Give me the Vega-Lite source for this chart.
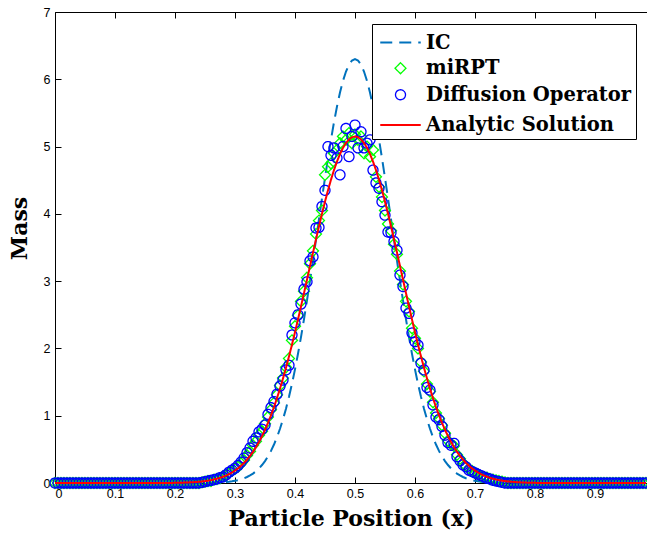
{
  "$schema": "https://vega.github.io/schema/vega-lite/v6.json",
  "width": 592,
  "height": 471,
  "autosize": {"type": "none"},
  "padding": {"left": 55, "top": 12, "right": 0, "bottom": 52},
  "background": "white",
  "config": {
    "view": {"stroke": null},
    "axis": {
      "grid": false,
      "domainColor": "#000",
      "domainWidth": 1,
      "tickColor": "#000",
      "tickWidth": 1,
      "tickSize": -6,
      "labelFont": "Liberation Sans",
      "labelFontSize": 12.5,
      "labelColor": "#000",
      "titleFont": "DejaVu Serif",
      "titleFontWeight": "bold",
      "titleFontSize": 22,
      "titleColor": "#000"
    }
  },
  "data": {
    "values": [
      {"x":0,"i":0,"a":0,"m":0,"d":0},{"x":0.005,"i":0,"a":0,"m":0,"d":0},{"x":0.01,"i":0,"a":0,"m":0,"d":0},{"x":0.015,"i":0,"a":0,"m":0,"d":0},
      {"x":0.02,"i":0,"a":0,"m":0,"d":0},{"x":0.025,"i":0,"a":0,"m":0,"d":0},{"x":0.03,"i":0,"a":0,"m":0,"d":0},{"x":0.035,"i":0,"a":0,"m":0,"d":0},
      {"x":0.04,"i":0,"a":0,"m":0,"d":0},{"x":0.045,"i":0,"a":0,"m":0,"d":0},{"x":0.05,"i":0,"a":0,"m":0,"d":0},{"x":0.055,"i":0,"a":0,"m":0,"d":0},
      {"x":0.06,"i":0,"a":0,"m":0,"d":0},{"x":0.065,"i":0,"a":0,"m":0,"d":0},{"x":0.07,"i":0,"a":0,"m":0,"d":0},{"x":0.075,"i":0,"a":0,"m":0,"d":0},
      {"x":0.08,"i":0,"a":0,"m":0,"d":0},{"x":0.085,"i":0,"a":0,"m":0,"d":0},{"x":0.09,"i":0,"a":0,"m":0,"d":0},{"x":0.095,"i":0,"a":0,"m":0,"d":0},
      {"x":0.1,"i":0,"a":0,"m":0,"d":0},{"x":0.105,"i":0,"a":0,"m":0,"d":0},{"x":0.11,"i":0,"a":0,"m":0,"d":0},{"x":0.115,"i":0,"a":0,"m":0,"d":0},
      {"x":0.12,"i":0,"a":0,"m":0,"d":0},{"x":0.125,"i":0,"a":0,"m":0,"d":0},{"x":0.13,"i":0,"a":0,"m":0,"d":0},{"x":0.135,"i":0,"a":0,"m":0,"d":0},
      {"x":0.14,"i":0,"a":0,"m":0,"d":0},{"x":0.145,"i":0,"a":0,"m":0,"d":0},{"x":0.15,"i":0,"a":0,"m":0,"d":0},{"x":0.155,"i":0,"a":0,"m":0,"d":0},
      {"x":0.16,"i":0,"a":0,"m":0,"d":0},{"x":0.165,"i":0,"a":0,"m":0,"d":0},{"x":0.17,"i":0,"a":0,"m":0,"d":0},{"x":0.175,"i":0,"a":0,"m":0,"d":0},
      {"x":0.18,"i":0,"a":0,"m":0,"d":0},{"x":0.185,"i":0,"a":0,"m":0,"d":0},{"x":0.19,"i":0,"a":0,"m":0,"d":0},{"x":0.195,"i":0,"a":0,"m":0,"d":0},
      {"x":0.2,"i":0,"a":0.003,"m":0,"d":0},{"x":0.205,"i":0,"a":0.003,"m":0,"d":0},{"x":0.21,"i":0,"a":0.004,"m":0,"d":0},{"x":0.215,"i":0,"a":0.006,"m":0,"d":0},
      {"x":0.22,"i":0,"a":0.0075,"m":0,"d":0},{"x":0.225,"i":0,"a":0.0095,"m":0,"d":0},{"x":0.23,"i":0,"a":0.012,"m":0,"d":0},{"x":0.235,"i":0,"a":0.015,"m":0,"d":0},
      {"x":0.24,"i":0,"a":0.019,"m":0,"d":0},{"x":0.245,"i":0,"a":0.023,"m":0.01,"d":0.01},{"x":0.25,"i":0,"a":0.028,"m":0.02,"d":0.02},{"x":0.255,"i":0,"a":0.035,"m":0.03,"d":0.03},
      {"x":0.26,"i":0.003,"a":0.043,"m":0.03,"d":0.04},{"x":0.265,"i":0.004,"a":0.052,"m":0.05,"d":0.05},{"x":0.27,"i":0.006,"a":0.063,"m":0.06,"d":0.06},{"x":0.275,"i":0.008,"a":0.076,"m":0.07,"d":0.08},
      {"x":0.28,"i":0.011,"a":0.092,"m":0.1,"d":0.09},{"x":0.285,"i":0.014,"a":0.11,"m":0.11,"d":0.12},{"x":0.29,"i":0.019,"a":0.131,"m":0.15,"d":0.16},{"x":0.295,"i":0.025,"a":0.156,"m":0.18,"d":0.19},
      {"x":0.3,"i":0.033,"a":0.184,"m":0.21,"d":0.22},{"x":0.305,"i":0.042,"a":0.217,"m":0.24,"d":0.26},{"x":0.31,"i":0.054,"a":0.255,"m":0.29,"d":0.31},{"x":0.315,"i":0.07,"a":0.298,"m":0.34,"d":0.37},
      {"x":0.32,"i":0.089,"a":0.347,"m":0.41,"d":0.45},{"x":0.325,"i":0.112,"a":0.402,"m":0.47,"d":0.52},{"x":0.33,"i":0.14,"a":0.464,"m":0.56,"d":0.62},{"x":0.335,"i":0.175,"a":0.534,"m":0.62,"d":0.67},
      {"x":0.34,"i":0.217,"a":0.611,"m":0.71,"d":0.76},{"x":0.345,"i":0.267,"a":0.697,"m":0.77,"d":0.8},{"x":0.35,"i":0.326,"a":0.791,"m":0.88,"d":0.86},{"x":0.355,"i":0.396,"a":0.894,"m":0.98,"d":1.02},
      {"x":0.36,"i":0.477,"a":1.007,"m":1.09,"d":1.12},{"x":0.365,"i":0.572,"a":1.129,"m":1.19,"d":1.21},{"x":0.37,"i":0.681,"a":1.261,"m":1.31,"d":1.32},{"x":0.375,"i":0.806,"a":1.402,"m":1.45,"d":1.44},
      {"x":0.38,"i":0.947,"a":1.553,"m":1.56,"d":1.53},{"x":0.385,"i":1.105,"a":1.713,"m":1.72,"d":1.68},{"x":0.39,"i":1.281,"a":1.881,"m":1.85,"d":1.75},{"x":0.395,"i":1.475,"a":2.057,"m":2.12,"d":2.2},
      {"x":0.4,"i":1.689,"a":2.24,"m":2.33,"d":2.38},{"x":0.405,"i":1.92,"a":2.43,"m":2.49,"d":2.5},{"x":0.41,"i":2.169,"a":2.624,"m":2.7,"d":2.66},{"x":0.415,"i":2.434,"a":2.822,"m":2.85,"d":2.88},
      {"x":0.42,"i":2.714,"a":3.022,"m":3.05,"d":2.99},{"x":0.425,"i":3.005,"a":3.224,"m":3.26,"d":3.3},{"x":0.43,"i":3.306,"a":3.424,"m":3.45,"d":3.36},{"x":0.435,"i":3.613,"a":3.621,"m":3.7,"d":3.79},
      {"x":0.44,"i":3.923,"a":3.815,"m":3.9,"d":3.8},{"x":0.445,"i":4.232,"a":4.003,"m":4.05,"d":4.11},{"x":0.45,"i":4.535,"a":4.182,"m":4.58,"d":4.35},{"x":0.455,"i":4.827,"a":4.351,"m":4.7,"d":5.0},
      {"x":0.46,"i":5.104,"a":4.508,"m":4.75,"d":4.87},{"x":0.465,"i":5.362,"a":4.651,"m":4.9,"d":4.98},{"x":0.47,"i":5.596,"a":4.778,"m":4.95,"d":4.83},{"x":0.475,"i":5.803,"a":4.889,"m":5.05,"d":4.58},
      {"x":0.48,"i":5.977,"a":4.981,"m":5.15,"d":5.0},{"x":0.485,"i":6.116,"a":5.054,"m":5.1,"d":5.27},{"x":0.49,"i":6.218,"a":5.107,"m":5.2,"d":4.85},{"x":0.495,"i":6.279,"a":5.139,"m":5.05,"d":5.15},
      {"x":0.5,"i":6.3,"a":5.15,"m":5.18,"d":5.32},{"x":0.505,"i":6.279,"a":5.139,"m":5.1,"d":4.98},{"x":0.51,"i":6.218,"a":5.107,"m":5.15,"d":5.22},{"x":0.515,"i":6.116,"a":5.054,"m":4.9,"d":4.98},
      {"x":0.52,"i":5.977,"a":4.981,"m":5.0,"d":5.05},{"x":0.525,"i":5.803,"a":4.889,"m":4.85,"d":5.1},{"x":0.53,"i":5.596,"a":4.778,"m":4.95,"d":4.65},{"x":0.535,"i":5.362,"a":4.651,"m":4.55,"d":4.46},
      {"x":0.54,"i":5.104,"a":4.508,"m":4.4,"d":4.38},{"x":0.545,"i":4.827,"a":4.351,"m":4.25,"d":4.18},{"x":0.55,"i":4.535,"a":4.182,"m":4.05,"d":3.98},{"x":0.555,"i":4.232,"a":4.003,"m":3.85,"d":3.73},
      {"x":0.56,"i":3.923,"a":3.815,"m":3.75,"d":3.72},{"x":0.565,"i":3.613,"a":3.621,"m":3.55,"d":3.59},{"x":0.57,"i":3.306,"a":3.424,"m":3.4,"d":3.46},{"x":0.575,"i":3.005,"a":3.224,"m":3.15,"d":3.09},
      {"x":0.58,"i":2.714,"a":3.022,"m":2.95,"d":2.92},{"x":0.585,"i":2.434,"a":2.822,"m":2.7,"d":2.6},{"x":0.59,"i":2.169,"a":2.624,"m":2.55,"d":2.52},{"x":0.595,"i":1.92,"a":2.43,"m":2.3,"d":2.23},
      {"x":0.6,"i":1.689,"a":2.24,"m":2.15,"d":2.1},{"x":0.605,"i":1.475,"a":2.057,"m":2.0,"d":2.05},{"x":0.61,"i":1.281,"a":1.881,"m":1.8,"d":1.78},{"x":0.615,"i":1.105,"a":1.713,"m":1.66,"d":1.68},
      {"x":0.62,"i":0.947,"a":1.553,"m":1.47,"d":1.42},{"x":0.625,"i":0.806,"a":1.402,"m":1.36,"d":1.38},{"x":0.63,"i":0.681,"a":1.261,"m":1.2,"d":1.16},{"x":0.635,"i":0.572,"a":1.129,"m":1.04,"d":0.98},
      {"x":0.64,"i":0.477,"a":1.007,"m":0.96,"d":0.94},{"x":0.645,"i":0.396,"a":0.894,"m":0.86,"d":0.84},{"x":0.65,"i":0.326,"a":0.791,"m":0.74,"d":0.71},{"x":0.655,"i":0.267,"a":0.697,"m":0.63,"d":0.6},
      {"x":0.66,"i":0.217,"a":0.611,"m":0.58,"d":0.56},{"x":0.665,"i":0.175,"a":0.534,"m":0.55,"d":0.59},{"x":0.67,"i":0.14,"a":0.464,"m":0.42,"d":0.39},{"x":0.675,"i":0.112,"a":0.402,"m":0.36,"d":0.33},
      {"x":0.68,"i":0.089,"a":0.347,"m":0.29,"d":0.27},{"x":0.685,"i":0.07,"a":0.298,"m":0.25,"d":0.24},{"x":0.69,"i":0.054,"a":0.255,"m":0.21,"d":0.19},{"x":0.695,"i":0.042,"a":0.217,"m":0.18,"d":0.17},
      {"x":0.7,"i":0.033,"a":0.184,"m":0.15,"d":0.15},{"x":0.705,"i":0.025,"a":0.156,"m":0.13,"d":0.13},{"x":0.71,"i":0.019,"a":0.131,"m":0.1,"d":0.11},{"x":0.715,"i":0.014,"a":0.11,"m":0.09,"d":0.09},
      {"x":0.72,"i":0.011,"a":0.092,"m":0.08,"d":0.07},{"x":0.725,"i":0.008,"a":0.076,"m":0.06,"d":0.06},{"x":0.73,"i":0.006,"a":0.063,"m":0.05,"d":0.04},{"x":0.735,"i":0.004,"a":0.052,"m":0.04,"d":0.03},
      {"x":0.74,"i":0.003,"a":0.043,"m":0.03,"d":0.02},{"x":0.745,"i":0,"a":0.035,"m":0.02,"d":0.01},{"x":0.75,"i":0,"a":0.028,"m":0.01,"d":0},{"x":0.755,"i":0,"a":0.023,"m":0,"d":0},
      {"x":0.76,"i":0,"a":0.019,"m":0,"d":0},{"x":0.765,"i":0,"a":0.015,"m":0,"d":0},{"x":0.77,"i":0,"a":0.012,"m":0,"d":0},{"x":0.775,"i":0,"a":0.0095,"m":0,"d":0},
      {"x":0.78,"i":0,"a":0.0075,"m":0,"d":0},{"x":0.785,"i":0,"a":0.006,"m":0,"d":0},{"x":0.79,"i":0,"a":0.004,"m":0,"d":0},{"x":0.795,"i":0,"a":0.003,"m":0,"d":0},
      {"x":0.8,"i":0,"a":0.003,"m":0,"d":0},{"x":0.805,"i":0,"a":0,"m":0,"d":0},{"x":0.81,"i":0,"a":0,"m":0,"d":0},{"x":0.815,"i":0,"a":0,"m":0,"d":0},
      {"x":0.82,"i":0,"a":0,"m":0,"d":0},{"x":0.825,"i":0,"a":0,"m":0,"d":0},{"x":0.83,"i":0,"a":0,"m":0,"d":0},{"x":0.835,"i":0,"a":0,"m":0,"d":0},
      {"x":0.84,"i":0,"a":0,"m":0,"d":0},{"x":0.845,"i":0,"a":0,"m":0,"d":0},{"x":0.85,"i":0,"a":0,"m":0,"d":0},{"x":0.855,"i":0,"a":0,"m":0,"d":0},
      {"x":0.86,"i":0,"a":0,"m":0,"d":0},{"x":0.865,"i":0,"a":0,"m":0,"d":0},{"x":0.87,"i":0,"a":0,"m":0,"d":0},{"x":0.875,"i":0,"a":0,"m":0,"d":0},
      {"x":0.88,"i":0,"a":0,"m":0,"d":0},{"x":0.885,"i":0,"a":0,"m":0,"d":0},{"x":0.89,"i":0,"a":0,"m":0,"d":0},{"x":0.895,"i":0,"a":0,"m":0,"d":0},
      {"x":0.9,"i":0,"a":0,"m":0,"d":0},{"x":0.905,"i":0,"a":0,"m":0,"d":0},{"x":0.91,"i":0,"a":0,"m":0,"d":0},{"x":0.915,"i":0,"a":0,"m":0,"d":0},
      {"x":0.92,"i":0,"a":0,"m":0,"d":0},{"x":0.925,"i":0,"a":0,"m":0,"d":0},{"x":0.93,"i":0,"a":0,"m":0,"d":0},{"x":0.935,"i":0,"a":0,"m":0,"d":0},
      {"x":0.94,"i":0,"a":0,"m":0,"d":0},{"x":0.945,"i":0,"a":0,"m":0,"d":0},{"x":0.95,"i":0,"a":0,"m":0,"d":0},{"x":0.955,"i":0,"a":0,"m":0,"d":0},
      {"x":0.96,"i":0,"a":0,"m":0,"d":0},{"x":0.965,"i":0,"a":0,"m":0,"d":0},{"x":0.97,"i":0,"a":0,"m":0,"d":0},{"x":0.975,"i":0,"a":0,"m":0,"d":0},
      {"x":0.98,"i":0,"a":0,"m":0,"d":0},{"x":0.985,"i":0,"a":0,"m":0,"d":0}
    ]
  },
  "transform": [{"fold": ["i", "m", "d", "a"], "as": ["s", "y"]}],
  "resolve": {"axis": {"x": "independent", "y": "independent"}},
  "encoding": {
    "x": {"field": "x", "type": "quantitative", "scale": {"domain": [0, 0.9867], "nice": false, "zero": false}, "axis": null},
    "y": {"field": "y", "type": "quantitative", "scale": {"domain": [0, 7], "nice": false}, "axis": null},
    "color": {
      "field": "s", "type": "nominal",
      "scale": {"domain": ["i", "m", "d", "a"], "range": ["#0072bd", "#00ff00", "#0000ff", "#ff0000"]},
      "legend": {
        "orient": "none", "legendX": 317, "legendY": 12, "title": null,
        "labelExpr": "{'i':'IC','m':'miRPT','d':'Diffusion Operator','a':'Analytic Solution'}[datum.label]",
        "labelFont": "DejaVu Serif", "labelFontWeight": "bold", "labelFontSize": 19.5, "labelColor": "#000", "labelLimit": 400,
        "strokeColor": "#000", "fillColor": "#fff", "padding": 4, "rowPadding": 5.5, "symbolOffset": 10, "labelOffset": 11
      }
    },
    "strokeDash": {
      "field": "s", "type": "nominal",
      "scale": {"domain": ["i", "m", "d", "a"], "range": [[12, 7], [1, 0], [1, 0], [1, 0]]}
    },
    "strokeWidth": {
      "field": "s", "type": "nominal",
      "scale": {"type": "ordinal", "domain": ["i", "m", "d", "a"], "range": [2, 1.3, 1.3, 2]}
    }
  },
  "layer": [
    {
      "transform": [{"filter": "datum.s === 'i'"}],
      "mark": {"type": "line"},
      "encoding": {
        "x": {"field": "x", "type": "quantitative", "scale": {"domain": [0, 0.9867], "nice": false, "zero": false},
          "axis": {"orient": "bottom", "values": [0, 0.1, 0.2, 0.3, 0.4, 0.5, 0.6, 0.7, 0.8, 0.9], "format": "~g", "labelPadding": 10, "titlePadding": 9, "title": "Particle Position (x)"}},
        "y": {"field": "y", "type": "quantitative", "scale": {"domain": [0, 7], "nice": false},
          "axis": {"orient": "left", "values": [0, 1, 2, 3, 4, 5, 6, 7], "format": "d", "labelPadding": 11, "title": "Mass", "titleX": -24, "titleY": 216}}
      }
    },
    {
      "transform": [{"filter": "datum.s === 'm'"}],
      "mark": {"type": "point", "filled": false, "opacity": 1},
      "encoding": {
        "x": {"field": "x", "type": "quantitative", "scale": {"domain": [0, 0.9867], "nice": false, "zero": false},
          "axis": {"orient": "top", "values": [0, 0.1, 0.2, 0.3, 0.4, 0.5, 0.6, 0.7, 0.8, 0.9], "labels": false, "title": null}},
        "shape": {"field": "s", "type": "nominal", "scale": {"domain": ["i", "m", "d", "a"], "range": ["M-1.5,0L1.5,0", "diamond", "circle", "M-1.5,0L1.5,0"]}},
        "size": {"field": "s", "type": "nominal", "scale": {"type": "ordinal", "domain": ["i", "m", "d", "a"], "range": [729, 121, 100, 729]}}
      }
    },
    {
      "transform": [{"filter": "datum.s === 'd'"}],
      "mark": {"type": "point", "filled": false, "opacity": 1},
      "encoding": {
        "shape": {"field": "s", "type": "nominal", "scale": {"domain": ["i", "m", "d", "a"], "range": ["M-1.5,0L1.5,0", "diamond", "circle", "M-1.5,0L1.5,0"]}},
        "size": {"field": "s", "type": "nominal", "scale": {"type": "ordinal", "domain": ["i", "m", "d", "a"], "range": [729, 121, 100, 729]}}
      }
    },
    {
      "transform": [{"filter": "datum.s === 'a'"}],
      "mark": {"type": "line"}
    }
  ]
}
